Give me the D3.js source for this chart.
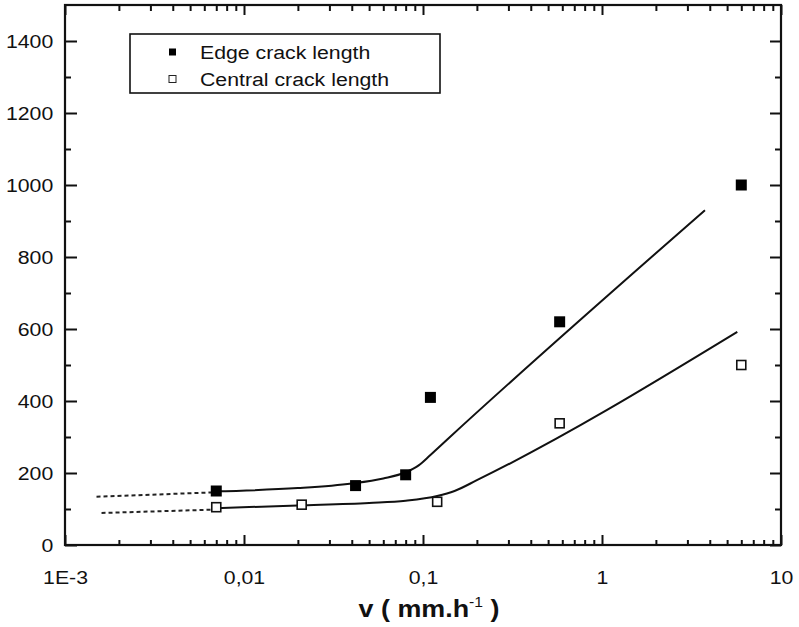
<!DOCTYPE html>
<html>
<head>
<meta charset="utf-8">
<script src="https://cdn.jsdelivr.net/npm/d3@7"></script>
<style>
  body { margin: 0; background: #fff; }
  svg text { font-family: "Liberation Sans", Arial, sans-serif; fill: #111; }
</style>
</head>
<body>
<svg class="crackChart" width="799" height="627"></svg>
<script>
// measured points
const edgeV = [0.007, 0.042, 0.08, 0.11, 0.58, 6];
const edgeLen = [150, 165, 195, 410, 620, 1000];
const centralV = [0.007, 0.021, 0.12, 0.58, 6];
const centralLen = [105, 112, 120, 338, 500];

// fitted curves (solid) and their extrapolation (dotted)
const edgeFitV = [0.0068, 0.02, 0.04, 0.06, 0.08, 0.095, 0.11, 0.14, 3.76];
const edgeFitLen = [149, 158, 171, 185, 202, 222, 250, 298, 930];
const centralFitV = [0.0068, 0.02, 0.05, 0.08, 0.12, 0.15, 0.2, 5.7];
const centralFitLen = [102, 110, 117, 123, 136, 150, 180, 592];
const edgeDotV = [0.0015, 0.0066];
const edgeDotLen = [134, 146];
const centralDotV = [0.0016, 0.0066];
const centralDotLen = [89, 98];

// axes
const xMajor = [0.001, 0.01, 0.1, 1, 10];
const xMajorLabels = ["1E-3", "0,01", "0,1", "1", "10"];
const yMajor = [0, 200, 400, 600, 800, 1000, 1200, 1400];
const yMinor = [100, 300, 500, 700, 900, 1100, 1300];

const legendNames = ["Edge crack length", "Central crack length"];

const svg = d3.select('svg.crackChart');
const plotL = 65, plotR = 781, plotT = 5, plotB = 545;
const wide = 1.12; // source image is stretched horizontally

const x = d3.scaleLog().domain([0.001, 10]).range([plotL, plotR]);
const y = d3.scaleLinear().domain([0, 1500]).range([plotB, plotT]);

// minor log ticks 2..9 per decade
const xMinor = x.ticks().filter(d => !xMajor.some(m => Math.abs(m - d) / m < 1e-9));

function fmtX(d){
  return xMajorLabels[xMajor.findIndex(m => Math.abs(m - d) / m < 1e-9)];
}

const axisGrp = svg.append('g').attr('class', 'axes');

// bottom
axisGrp.append('g')
  .attr('transform', `translate(0,${plotB})`)
  .call(d3.axisBottom(x).tickValues(xMajor).tickSize(-10).tickPadding(26).tickFormat(fmtX));
axisGrp.append('g')
  .attr('transform', `translate(0,${plotB})`)
  .call(d3.axisBottom(x).tickValues(xMinor).tickSize(-5).tickFormat(''));
// top
axisGrp.append('g')
  .attr('transform', `translate(0,${plotT})`)
  .call(d3.axisTop(x).tickValues(xMajor).tickSize(-10).tickFormat(''));
axisGrp.append('g')
  .attr('transform', `translate(0,${plotT})`)
  .call(d3.axisTop(x).tickValues(xMinor).tickSize(-6).tickFormat(''));
// left
axisGrp.append('g')
  .attr('transform', `translate(${plotL},0)`)
  .call(d3.axisLeft(y).tickValues(yMajor).tickSize(-12).tickPadding(10.5).tickFormat(d3.format('d')));
axisGrp.append('g')
  .attr('transform', `translate(${plotL},0)`)
  .call(d3.axisLeft(y).tickValues(yMinor).tickSize(-6).tickFormat(''));
// right
axisGrp.append('g')
  .attr('transform', `translate(${plotR},0)`)
  .call(d3.axisRight(y).tickValues(yMajor).tickSize(-11).tickFormat(''));
axisGrp.append('g')
  .attr('transform', `translate(${plotR},0)`)
  .call(d3.axisRight(y).tickValues(yMinor).tickSize(-6).tickFormat(''));

axisGrp.selectAll('.domain').remove();
axisGrp.selectAll('.tick line').style('stroke', '#111').style('stroke-width', 2);
axisGrp.selectAll('.tick text')
  .style('font-size', '19px')
  .attr('transform', `scale(${wide},1)`);

// frame
svg.append('rect')
  .attr('x', plotL).attr('y', plotT)
  .attr('width', plotR - plotL).attr('height', plotB - plotT)
  .style('fill', 'none').style('stroke', '#111').style('stroke-width', 2.2);

// lines
const line = d3.line().x(d => x(d[0])).y(d => y(d[1])).curve(d3.curveMonotoneX);
const zip = (a, b) => a.map((d, i) => [d, b[i]]);

const lineGrp = svg.append('g').attr('class', 'fits');
[[edgeFitV, edgeFitLen], [centralFitV, centralFitLen]].forEach(([v, l]) => {
  lineGrp.append('path')
    .attr('d', line(zip(v, l)))
    .style('fill', 'none').style('stroke', '#111').style('stroke-width', 2);
});
[[edgeDotV, edgeDotLen], [centralDotV, centralDotLen]].forEach(([v, l]) => {
  lineGrp.append('path')
    .attr('d', d3.line().x(d => x(d[0])).y(d => y(d[1]))(zip(v, l)))
    .style('fill', 'none').style('stroke', '#222').style('stroke-width', 2)
    .style('stroke-dasharray', '4,3');
});

// markers
const sz = 11;
svg.append('g').selectAll('rect.edge')
  .data(zip(edgeV, edgeLen))
  .enter()
  .append('rect')
  .attr('class', 'edge')
  .attr('x', d => x(d[0]) - sz / 2).attr('y', d => y(d[1]) - sz / 2)
  .attr('width', sz).attr('height', sz)
  .style('fill', '#000');

svg.append('g').selectAll('rect.central')
  .data(zip(centralV, centralLen))
  .enter()
  .append('rect')
  .attr('class', 'central')
  .attr('x', d => x(d[0]) - (sz - 2) / 2).attr('y', d => y(d[1]) - (sz - 2) / 2)
  .attr('width', sz - 2).attr('height', sz - 2)
  .style('fill', '#fff').style('stroke', '#111').style('stroke-width', 1.6);

// legend
const legend = svg.append('g').attr('class', 'legend');
legend.append('rect')
  .attr('x', 130).attr('y', 34).attr('width', 310).attr('height', 59)
  .style('fill', '#fff').style('stroke', '#111').style('stroke-width', 1.6);
legendNames.forEach((name, i) => {
  const cy = 52 + i * 27;
  legend.append('rect')
    .attr('x', 169).attr('y', cy - 3.5).attr('width', 7).attr('height', 7)
    .style('fill', i === 0 ? '#000' : '#fff')
    .style('stroke', '#222').style('stroke-width', i === 0 ? 0 : 1);
  legend.append('text')
    .attr('transform', `translate(200,${cy + 7}) scale(${wide},1)`)
    .style('font-size', '19px')
    .text(name);
});

// x title
const title = svg.append('text')
  .attr('transform', `translate(429,617) scale(${wide},1)`)
  .attr('text-anchor', 'middle')
  .style('font-size', '24px').style('font-weight', 'bold');
title.append('tspan').text('v ( mm.h');
title.append('tspan').attr('dy', -10).style('font-size', '14px').style('font-weight', 'normal').text('-1');
title.append('tspan').attr('dy', 10).text(' )');
</script>
</body>
</html>
